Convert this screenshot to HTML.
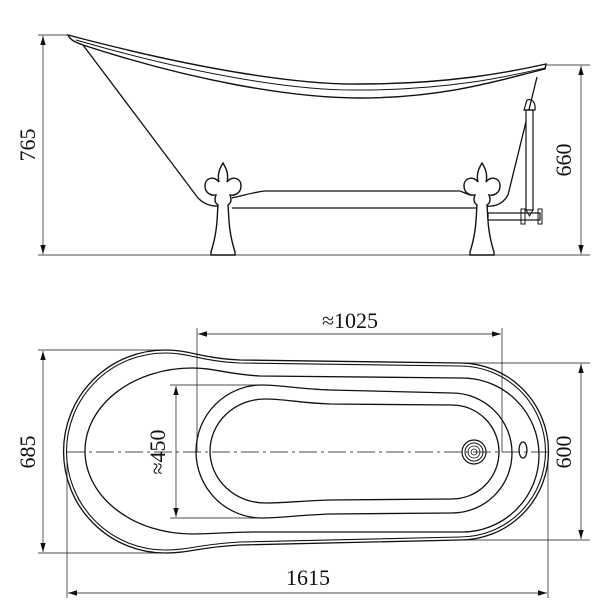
<!DOCTYPE html>
<html><head><meta charset="utf-8"><style>
html,body{margin:0;padding:0;background:#fff}
svg{display:block}
text{font-family:"Liberation Serif",serif;font-size:22px;fill:#111}
</style></head><body>
<svg width="600" height="600" viewBox="0 0 600 600" xmlns="http://www.w3.org/2000/svg">
<defs>
<marker id="a" viewBox="0 0 10 10" refX="10" refY="5" markerWidth="9" markerHeight="9" orient="auto-start-reverse" markerUnits="userSpaceOnUse"><path d="M0,2 L10,5 L0,8 Z" fill="#111"/></marker>
<path id="leg" d="M0,163 C3,168 6,174 4,182 C8,176 18,177 18,186 C18,193 12,196 7,195 C9,200 8,203 5,205 C6,215 5,230 12,252 L12,255 L-12,255 L-12,252 C-5,230 -6,215 -5,205 C-8,203 -9,200 -7,195 C-12,196 -18,193 -18,186 C-18,177 -8,176 -4,182 C-6,174 -3,168 0,163 Z" fill="#fff" stroke="#111" stroke-width="1.4"/>
</defs>
<g fill="none" stroke="#111" stroke-width="1">
<line x1="38" y1="35" x2="70" y2="35" stroke-width="0.7"/>
<line x1="38" y1="255" x2="590" y2="255" stroke-width="0.7"/>
<line x1="540" y1="65" x2="590" y2="65" stroke-width="0.7"/>
<line x1="43" y1="36" x2="43" y2="254" marker-start="url(#a)" marker-end="url(#a)" stroke-width="0.7"/>
<line x1="581" y1="66" x2="581" y2="254" marker-start="url(#a)" marker-end="url(#a)" stroke-width="0.7"/>
<path d="M68,35 C200,70 300,85 360,84 C450,84 510,72 546,64 L545,69 C510,77 450,98 360,98 C290,98 190,80 83,45 C75,42 70,40 68,35 Z" stroke-width="1.4" fill="#fff"/>
<path d="M76,40 C200,76 300,91 360,90 C450,90 510,76 545,68" stroke-width="1"/>
<path d="M83,45 L198,198 C205,205 212,207 225,206" stroke-width="1.3"/>
<path d="M537,77 L508,195 C502,205 495,207 482,206" stroke-width="1.3"/>
<path d="M232,198 C245,195 255,192 265,191 L460,191 L470,195" stroke-width="1.3"/>
<line x1="232" y1="208" x2="478" y2="208" stroke-width="1.3"/>
<rect x="526" y="110" width="7" height="100" stroke-width="1.2" fill="#fff"/>
<path d="M527,100 C532,98 536,103 535,110 L524,110 Z" stroke-width="1.2"/>
<rect x="488" y="213" width="52" height="7" stroke-width="1.2" fill="#fff"/>
<rect x="521" y="209" width="4" height="15" stroke-width="1"/>
<rect x="538" y="209" width="4" height="15" stroke-width="1"/>
<path d="M526,210 L533,210 L529.5,216 Z" stroke-width="1"/>
<use href="#leg" x="223"/>
<use href="#leg" x="482"/>
<line x1="38" y1="350" x2="170" y2="350" stroke-width="0.7"/>
<line x1="38" y1="553" x2="170" y2="553" stroke-width="0.7"/>
<line x1="43" y1="351" x2="43" y2="552" marker-start="url(#a)" marker-end="url(#a)" stroke-width="0.7"/>
<line x1="460" y1="363" x2="590" y2="363" stroke-width="0.7"/>
<line x1="460" y1="540" x2="590" y2="540" stroke-width="0.7"/>
<line x1="581" y1="364" x2="581" y2="539" marker-start="url(#a)" marker-end="url(#a)" stroke-width="0.7"/>
<line x1="67" y1="460" x2="67" y2="598" stroke-width="0.7"/>
<line x1="548" y1="460" x2="548" y2="598" stroke-width="0.7"/>
<line x1="68" y1="593" x2="547" y2="593" marker-start="url(#a)" marker-end="url(#a)" stroke-width="0.7"/>
<line x1="197" y1="328" x2="197" y2="452" stroke-width="0.7"/>
<line x1="502" y1="328" x2="502" y2="452" stroke-width="0.7"/>
<line x1="198" y1="334" x2="501" y2="334" marker-start="url(#a)" marker-end="url(#a)" stroke-width="0.7"/>
<line x1="170" y1="385" x2="262" y2="385" stroke-width="0.7"/>
<line x1="170" y1="518" x2="262" y2="518" stroke-width="0.7"/>
<line x1="176" y1="386" x2="176" y2="517" marker-start="url(#a)" marker-end="url(#a)" stroke-width="0.7"/>
<line x1="67" y1="452" x2="548" y2="452" stroke-dasharray="18,4,3,4" stroke-width="0.7"/>
<path d="M165,350 C190,350 200,358 240,360 L460,363 A88.5,88.5 0 0 1 460,540 L240,545 C200,547 190,553 165,553 A101.5,101.5 0 0 1 165,350 Z" stroke-width="1.3"/>
<path d="M165,353 C190,353 200,361 240,363 L460,366 A85.5,85.5 0 0 1 460,537 L240,542 C200,544 190,550 165,550 A98.5,98.5 0 0 1 165,353 Z" stroke-width="1.1"/>
<path d="M192,368 C215,368 225,374 260,376 L462,378 A77,77 0 0 1 462,532 L260,532 C225,532 215,534 192,534 A107,83 0 0 1 192,368 Z" stroke-width="1.3"/>
<path d="M262,385 C280,385 300,389 330,390 L452,393 A60,60 0 0 1 452,513 L330,514 C300,515 280,518 262,518 A66,66.5 0 0 1 262,385 Z" stroke-width="1.3"/>
<path d="M265,399 C285,399 300,403 330,404 L452,405 A47,47 0 0 1 452,499 L330,500 C300,501 285,503 265,503 A55,52 0 0 1 265,399 Z" stroke-width="1.3"/>
<circle cx="474" cy="452" r="12" stroke-width="1.2"/>
<circle cx="474" cy="452" r="9" stroke-width="1"/>
<circle cx="474" cy="452" r="6" stroke-width="0.8"/>
<circle cx="474" cy="452" r="3" stroke-width="0.8"/>
<ellipse cx="523" cy="450" rx="4" ry="8" stroke-width="1.3"/>
</g>
<text x="30" y="145" text-anchor="middle" transform="rotate(-90 30 145)" dominant-baseline="middle">765</text>
<text x="566" y="160" text-anchor="middle" transform="rotate(-90 566 160)" dominant-baseline="middle">660</text>
<text x="30" y="452" text-anchor="middle" transform="rotate(-90 30 452)" dominant-baseline="middle">685</text>
<text x="566" y="452" text-anchor="middle" transform="rotate(-90 566 452)" dominant-baseline="middle">600</text>
<text x="160" y="452" text-anchor="middle" transform="rotate(-90 160 452)" dominant-baseline="middle">≈450</text>
<text x="350" y="328" text-anchor="middle">≈1025</text>
<text x="308" y="585" text-anchor="middle">1615</text>
</svg>
</body></html>
